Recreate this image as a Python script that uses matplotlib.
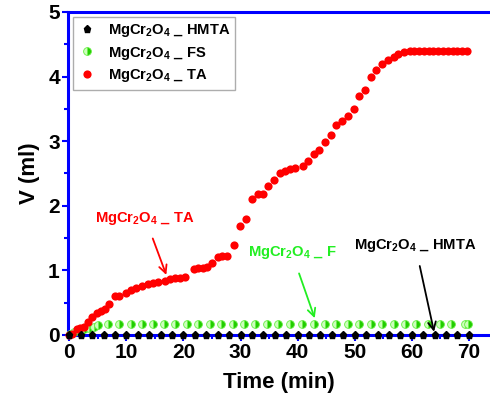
import matplotlib
matplotlib.use("Agg")
import matplotlib.pyplot as plt
from matplotlib.ticker import MultipleLocator

plt.rcParams['font.family'] = ['Liberation Sans', 'DejaVu Sans']
plt.rcParams['font.weight'] = 'bold'
plt.rcParams['mathtext.fontset'] = 'custom'
plt.rcParams['mathtext.rm'] = 'Liberation Sans:bold'
plt.rcParams['mathtext.bf'] = 'Liberation Sans:bold'
plt.rcParams['mathtext.it'] = 'Liberation Sans:bold'

# ---- data ----
t_hmta = [0, 2, 4, 6, 8, 10, 12, 14, 16, 18, 20, 22, 24, 26, 28, 30, 32, 34,
          36, 38, 40, 42, 44, 46, 48, 50, 52, 54, 56, 58, 60, 62, 64, 66, 68, 70]
v_hmta = [0.0] * len(t_hmta)

t_fs = [0.2, 0.8, 1.6, 2.5, 3.4, 4.3, 5.1, 6.8, 8.8, 10.8, 12.7, 14.7, 16.6, 18.6,
        20.6, 22.6, 24.6, 26.6, 28.6, 30.6, 32.6, 34.6, 36.6, 38.6, 40.7, 42.8,
        44.8, 46.8, 48.8, 50.8, 52.8, 54.8, 56.8, 58.8, 60.8, 62.9, 65.0, 66.8,
        69.3, 69.9]
v_fs = [0.02, 0.05, 0.08, 0.10, 0.11, 0.13, 0.155, 0.17, 0.17, 0.17, 0.17, 0.17,
        0.17, 0.17, 0.17, 0.17, 0.17, 0.17, 0.17, 0.17, 0.17, 0.17, 0.17, 0.17,
        0.17, 0.17, 0.17, 0.17, 0.17, 0.17, 0.17, 0.17, 0.17, 0.17, 0.17, 0.17,
        0.17, 0.17, 0.17, 0.17]

t_ta = [0.0, 0.5, 1.3, 1.9, 2.6, 3.3, 4.0, 4.8, 5.5, 6.2, 7.0, 8.1, 8.8, 9.9,
        10.9, 11.7, 12.7, 13.8, 14.6, 15.6, 16.7, 17.7, 18.6, 19.4, 20.2, 21.8,
        22.6, 23.5, 24.2, 25.0, 26.0, 26.8, 27.6, 28.9, 29.9, 30.9, 32.0, 33.0,
        34.0, 34.9, 35.9, 36.9, 37.8, 38.7, 39.6, 40.9, 41.9, 42.8, 43.8, 44.8,
        45.8, 46.8, 47.8, 48.8, 49.8, 50.8, 51.8, 52.9, 53.8, 54.8, 55.8, 56.8,
        57.6, 58.6, 59.6, 60.4, 61.3, 62.1, 63.0, 63.8, 64.6, 65.5, 66.3, 67.2,
        68.0, 68.8, 69.6]
v_ta = [0.0, 0.02, 0.10, 0.11, 0.13, 0.20, 0.28, 0.34, 0.37, 0.41, 0.48, 0.60,
        0.60, 0.65, 0.69, 0.72, 0.76, 0.79, 0.80, 0.82, 0.84, 0.86, 0.88, 0.89,
        0.90, 1.02, 1.04, 1.04, 1.06, 1.11, 1.20, 1.22, 1.22, 1.39, 1.69, 1.80,
        2.10, 2.19, 2.19, 2.30, 2.40, 2.50, 2.54, 2.57, 2.59, 2.61, 2.70, 2.80,
        2.86, 2.99, 3.10, 3.25, 3.32, 3.39, 3.50, 3.70, 3.79, 4.00, 4.10, 4.20,
        4.26, 4.31, 4.35, 4.38, 4.40, 4.40, 4.40, 4.40, 4.40, 4.40, 4.40, 4.40,
        4.40, 4.40, 4.40, 4.40, 4.40]

labels = [r'MgCr$_{2}$O$_{4}$ _ HMTA', r'MgCr$_{2}$O$_{4}$ _ FS', r'MgCr$_{2}$O$_{4}$ _ TA']
ann_labels = [r'MgCr$_{2}$O$_{4}$ _ TA', r'MgCr$_{2}$O$_{4}$ _ F', r'MgCr$_{2}$O$_{4}$ _ HMTA']

fig = plt.figure(figsize=(4.9, 4.0), dpi=100)
ax = fig.add_axes([0.139, 0.1625, 0.861, 0.8075])

blue = '#0000ff'
ax.plot(t_hmta, v_hmta, linestyle='none', marker='p', markersize=5.2,
        color='black', clip_on=False, zorder=4, label=labels[0])
ax.plot(t_fs, v_fs, linestyle='none', marker='o', markersize=5.6,
        markerfacecolor='#22cc00', markerfacecoloralt='#ccffbb', fillstyle='right',
        markeredgecolor='#66ee44', markeredgewidth=0.6, clip_on=False, zorder=3,
        label=labels[1])
ax.plot(t_ta, v_ta, linestyle='none', marker='o', markersize=5.9,
        color='#ff0000', markeredgewidth=0, clip_on=False, zorder=3, label=labels[2])

ax.set_xlim(-0.2, 73.7)
ax.set_ylim(0, 5)
ax.xaxis.set_major_locator(MultipleLocator(10))
ax.xaxis.set_minor_locator(MultipleLocator(5))
ax.yaxis.set_major_locator(MultipleLocator(1))
ax.yaxis.set_minor_locator(MultipleLocator(0.5))

for s in ['left', 'bottom', 'top']:
    ax.spines[s].set_color(blue)
    ax.spines[s].set_linewidth(2.2)
ax.spines['right'].set_visible(False)

ax.tick_params(which='both', direction='out', color=blue, width=1.5,
               labelsize=15, pad=2)
ax.tick_params(which='major', length=4)
ax.tick_params(which='minor', length=3)
ax.tick_params(top=False, right=False)
for lab in ax.get_xticklabels() + ax.get_yticklabels():
    lab.set_fontweight('bold')

ax.set_xlabel('Time (min)', fontsize=16, fontweight='bold', labelpad=7)
ax.set_ylabel('V (ml)', fontsize=16, fontweight='bold', labelpad=6)

leg = ax.legend(loc='upper left', bbox_to_anchor=(0.005, 0.995), fontsize=10.6,
                frameon=True, fancybox=False, edgecolor='#999999',
                handletextpad=0.8, borderpad=0.35, labelspacing=0.4,
                handlelength=1.2, borderaxespad=0.2)
leg.get_frame().set_linewidth(1.0)
for txt in leg.get_texts():
    txt.set_fontweight('bold')

ax.annotate(ann_labels[0], xy=(17.0, 0.93), xytext=(13.3, 1.81),
            color='#ff0000', fontsize=10.6, fontweight='bold', ha='center', va='center',
            arrowprops=dict(arrowstyle='->', color='#ff0000', lw=1.3,
                            shrinkA=7, shrinkB=0, mutation_scale=14))
ax.annotate(ann_labels[1], xy=(43.0, 0.26), xytext=(39.0, 1.27),
            color='#22ee22', fontsize=10.6, fontweight='bold', ha='center', va='center',
            arrowprops=dict(arrowstyle='->', color='#22ee22', lw=1.3,
                            shrinkA=7, shrinkB=0, mutation_scale=14))
ax.annotate(ann_labels[2], xy=(63.9, 0.05), xytext=(60.6, 1.39),
            color='black', fontsize=10.6, fontweight='bold', ha='center', va='center',
            arrowprops=dict(arrowstyle='->', color='black', lw=1.3,
                            shrinkA=7, shrinkB=0, mutation_scale=14))

fig.savefig('out.png', dpi=100)
